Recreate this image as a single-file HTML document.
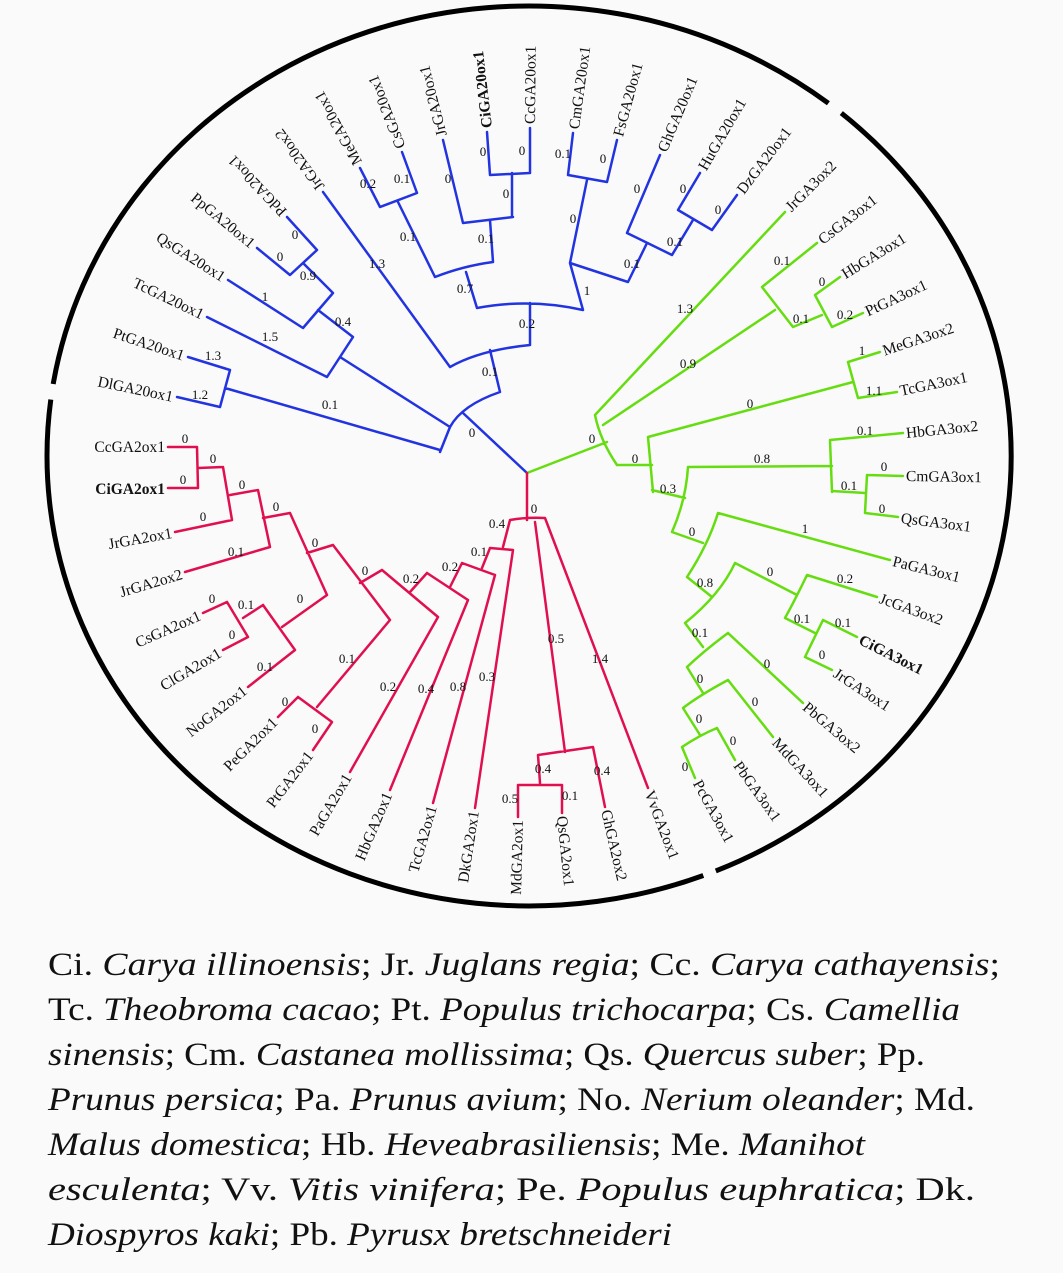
<!DOCTYPE html>
<html><head><meta charset="utf-8"><style>
html,body{margin:0;padding:0;background:#fafafa;}
svg{display:block;}
.lf{font-family:"Liberation Serif",serif;font-size:15.5px;fill:#111;}
.b{font-weight:bold;}
.n{font-family:"Liberation Serif",serif;font-size:13px;fill:#111;text-anchor:middle;dominant-baseline:middle;}
.lg{font-family:"Liberation Serif",serif;font-size:33px;fill:#111;}
.bl path{stroke:#2233e0;}
.gr path{stroke:#66dd11;}
.rd path{stroke:#e01050;}
g path{fill:none;stroke-width:2.5;stroke-linejoin:round;stroke-linecap:round;}
</style></head><body>
<svg width="1063" height="1273" viewBox="0 0 1063 1273" xmlns="http://www.w3.org/2000/svg">
<rect width="1063" height="1273" fill="#fafafa"/>
<!-- outer arcs -->
<path d="M841.3,113.1 A482 450 0 0 1 715.8,870.9" fill="none" stroke="#000" stroke-width="5"/>
<path d="M703.3,875.5 A482 450 0 0 1 50.8,399.6" fill="none" stroke="#000" stroke-width="5"/>
<path d="M53.2,384.0 A482 450 0 0 1 828.4,103.3" fill="none" stroke="#000" stroke-width="5"/>

<g class="bl"><path d="M527,473 L463,413 M440,452 L450,427 Q462,405 500,392 M177,397 L220,407 L230,370 L188,357 M225,388 L440,450
M287,217 L317,250 L290,275 L257,248 M303,263 L333,293 L303,328 L228,280 M318,310 L353,337 L327,377 L207,317 M340,357 L450,427
M500,392 L490,350 M450,367 Q480,350 530,345 M323,192 L450,367 M530,345 L530,303 M477,308 Q530,298 583,310
M477,308 L466,272 M435,277 Q463,266 493,262 M435,277 L398,202 M380,207 L417,193 M380,207 L360,168 M417,193 L402,152
M493,262 L490,220 M463,223 L513,217 M463,223 L443,140 M512,217 L512,173 M490,175 L530,173 M490,175 L487,132 M530,173 L530,128
M583,310 L570,263 M570,263 L628,282 M570,263 L587,180 M568,175 L607,182 M568,175 L573,133 M607,182 L617,140
M628,282 L647,243 M627,233 L672,255 M627,233 L660,155 M672,255 L693,220 M678,210 L712,230 M678,210 L700,173 M712,230 L737,195"/></g>

<g class="gr"><path d="M527,473 L607,442 M595,415 Q600,440 617,465 M595,415 L785,212 M603,425 L775,310
M762,287 L793,327 M762,287 L817,243 M793,327 L822,315 M815,295 L832,327 M815,295 L840,277 M832,327 L863,313
M617,465 L652,465 M648,437 L653,492 M648,437 L853,382 M848,362 L858,398 M848,362 L880,352 M858,398 L897,392
M652,490 L685,498 M688,467 Q686,500 672,532 M688,467 L832,466 M830,440 L832,492 M830,440 L903,433 M832,491 L865,493 M867,475 L865,513 M867,475 L903,476 M865,513 L898,517
M672,532 L703,543 M718,513 Q708,545 687,577 M718,513 L890,560
M687,577 L712,597 M735,563 Q720,595 685,623 M735,563 L797,595 M807,575 Q795,600 785,618 M807,575 L877,597 M785,618 L815,633 M823,620 L805,657 M823,620 L857,637 M805,657 L832,670
M685,623 L703,647 M728,633 Q705,650 687,667 M728,633 L803,703 M687,667 L703,693 M728,680 Q700,695 683,708 M728,680 L773,737 M683,708 L700,735 M717,728 Q700,735 682,747 M717,728 L735,760 M682,747 L695,778"/></g>

<g class="rd"><path d="M527,473 L527,520 M510,520 Q527,517 545,518 M545,518 L648,788 M535,522 L565,752
M538,755 L593,747 M593,747 L605,807 M538,755 L540,783 M518,785 L562,785 M518,785 L518,817 M562,785 L562,813
M510,520 L503,547 M490,548 L513,550 M513,550 L475,808 M490,548 L482,568 M462,563 L495,575 M495,575 L433,803 M462,563 L450,587
M427,573 L468,600 M468,600 L390,790 M427,573 L410,592 M382,570 L438,617 M438,617 L350,772 M382,570 L360,583
M333,545 L390,620 M390,620 L317,707 M298,697 L332,722 M298,697 L278,717 M332,722 L313,750 M333,545 L307,553
M290,513 L327,595 M327,595 L282,627 M263,605 L295,650 M295,650 L248,687 M263,605 L243,618 M227,602 L248,637 M227,602 L203,613 M248,637 L223,650
M290,513 L263,518 M258,490 L270,547 M270,547 L185,572 M258,490 L230,495 M223,467 L232,520 M232,520 L175,532 M223,467 L198,468 M197,447 L198,488 M197,447 L168,447 M198,488 L168,488"/></g>

<!-- leaf labels -->
<g class="lf">
<text transform="translate(173,397) rotate(11.8)" text-anchor="end" dy="5">DlGA20ox1</text>
<text transform="translate(184,356) rotate(18.4)" text-anchor="end" dy="5">PtGA20ox1</text>
<text transform="translate(203,315) rotate(25.6)" text-anchor="end" dy="5">TcGA20ox1</text>
<text transform="translate(224,278) rotate(32.4)" text-anchor="end" dy="5">QsGA20ox1</text>
<text transform="translate(253,245) rotate(39.4)" text-anchor="end" dy="5">PpGA20ox1</text>
<text transform="translate(284,214) rotate(-133.5)" dy="5">PdGA20ox1</text>
<text transform="translate(321,189) rotate(-126.3)" dy="5">JrGA20ox2</text>
<text transform="translate(358,164) rotate(-118.9)" dy="5">MeGA20ox1</text>
<text transform="translate(401,148) rotate(-111.5)" dy="5">CsGA20ox1</text>
<text transform="translate(442,136) rotate(-104.3)" dy="5">JrGA20ox1</text>
<text class="b" transform="translate(487,128) rotate(-96.7)" dy="5">CiGA20ox1</text>
<text transform="translate(530,124) rotate(-89.5)" dy="5">CcGA20ox1</text>
<text transform="translate(574,129) rotate(-82.2)" dy="5">CmGA20ox1</text>
<text transform="translate(618,136) rotate(-74.7)" dy="5">FsGA20ox1</text>
<text transform="translate(662,151) rotate(-67.1)" dy="5">GhGA20ox1</text>
<text transform="translate(702,169) rotate(-59.8)" dy="5">HuGA20ox1</text>
<text transform="translate(740,192) rotate(-52.6)" dy="5">DzGA20ox1</text>
<text transform="translate(788,209) rotate(-45)" dy="5">JrGA3ox2</text>
<text transform="translate(820,241) rotate(-38)" dy="5">CsGA3ox1</text>
<text transform="translate(843,275) rotate(-31.7)" dy="5">HbGA3ox1</text>
<text transform="translate(866,312) rotate(-25)" dy="5">PtGA3ox1</text>
<text transform="translate(883,351) rotate(-18.5)" dy="5">MeGA3ox2</text>
<text transform="translate(900,391) rotate(-11.9)" dy="5">TcGA3ox1</text>
<text transform="translate(906,433) rotate(-5.6)" dy="5">HbGA3ox2</text>
<text transform="translate(906,476) rotate(0.9)" dy="5">CmGA3ox1</text>
<text transform="translate(901,518) rotate(7.2)" dy="5">QsGA3ox1</text>
<text transform="translate(893,561) rotate(13.9)" dy="5">PaGA3ox1</text>
<text transform="translate(880,598) rotate(19.9)" dy="5">JcGA3ox2</text>
<text class="b" transform="translate(860,639) rotate(26.8)" dy="5">CiGA3ox1</text>
<text transform="translate(835,672) rotate(33.3)" dy="5">JrGA3ox1</text>
<text transform="translate(805,705) rotate(40.2)" dy="5">PbGA3ox2</text>
<text transform="translate(775,740) rotate(47.3)" dy="5">MdGA3ox1</text>
<text transform="translate(737,763) rotate(54.4)" dy="5">PbGA3ox1</text>
<text transform="translate(697,781) rotate(61.4)" dy="5">PcGA3ox1</text>
<text transform="translate(649,791) rotate(69.2)" dy="5">VvGA2ox1</text>
<text transform="translate(606,810) rotate(77)" dy="5">GhGA2ox2</text>
<text transform="translate(562,816) rotate(84.2)" dy="5">QsGA2ox1</text>
<text transform="translate(518,820) rotate(-88.5)" text-anchor="end" dy="5">MdGA2ox1</text>
<text transform="translate(474,811) rotate(-81.3)" text-anchor="end" dy="5">DkGA2ox1</text>
<text transform="translate(432,806) rotate(-74.2)" text-anchor="end" dy="5">TcGA2ox1</text>
<text transform="translate(388,793) rotate(-66.8)" text-anchor="end" dy="5">HbGA2ox1</text>
<text transform="translate(348,775) rotate(-59.6)" text-anchor="end" dy="5">PaGA2ox1</text>
<text transform="translate(310,753) rotate(-52.6)" text-anchor="end" dy="5">PtGA2ox1</text>
<text transform="translate(275,720) rotate(-44.8)" text-anchor="end" dy="5">PeGA2ox1</text>
<text transform="translate(245,689) rotate(-38)" text-anchor="end" dy="5">NoGA2ox1</text>
<text transform="translate(220,652) rotate(-30.6)" text-anchor="end" dy="5">ClGA2ox1</text>
<text transform="translate(200,615) rotate(-23.8)" text-anchor="end" dy="5">CsGA2ox1</text>
<text transform="translate(182,574) rotate(-16.6)" text-anchor="end" dy="5">JrGA2ox2</text>
<text transform="translate(172,533) rotate(-10)" text-anchor="end" dy="5">JrGA2ox1</text>
<text class="b" transform="translate(165,489)" text-anchor="end" dy="5">CiGA2ox1</text>
<text transform="translate(165,447)" text-anchor="end" dy="5">CcGA2ox1</text>
</g>

<!-- branch values -->
<g class="n">
<text x="213" y="357">1.3</text><text x="200" y="396">1.2</text><text x="330" y="406">0.1</text><text x="270" y="338">1.5</text>
<text x="265" y="298">1</text><text x="343" y="323">0.4</text><text x="308" y="277">0.9</text><text x="280" y="258">0</text><text x="295" y="236">0</text>
<text x="377" y="265">1.3</text><text x="408" y="238">0.1</text><text x="368" y="185">0.2</text><text x="402" y="180">0.1</text>
<text x="448" y="180">0</text><text x="483" y="153">0</text><text x="522" y="152">0</text><text x="506" y="195">0</text><text x="486" y="240">0.1</text>
<text x="465" y="290">0.7</text><text x="527" y="325">0.2</text><text x="490" y="373">0.1</text><text x="472" y="434">0</text>
<text x="563" y="155">0.1</text><text x="603" y="160">0</text><text x="573" y="220">0</text><text x="587" y="292">1</text><text x="632" y="265">0.1</text>
<text x="637" y="190">0</text><text x="675" y="243">0.1</text><text x="683" y="190">0</text><text x="718" y="211">0</text>
<text x="592" y="440">0</text><text x="685" y="310">1.3</text><text x="688" y="365">0.9</text><text x="782" y="262">0.1</text><text x="801" y="320">0.1</text>
<text x="822" y="283">0</text><text x="845" y="316">0.2</text><text x="862" y="352">1</text><text x="874" y="392">1.1</text><text x="750" y="405">0</text>
<text x="865" y="432">0.1</text><text x="762" y="460">0.8</text><text x="635" y="460">0</text><text x="668" y="490">0.3</text><text x="884" y="468">0</text>
<text x="849" y="487">0.1</text><text x="882" y="510">0</text><text x="692" y="533">0</text><text x="805" y="530">1</text><text x="705" y="584">0.8</text>
<text x="770" y="573">0</text><text x="845" y="580">0.2</text><text x="802" y="620">0.1</text><text x="843" y="624">0.1</text><text x="822" y="656">0</text>
<text x="700" y="634">0.1</text><text x="767" y="665">0</text><text x="700" y="680">0</text><text x="755" y="703">0</text><text x="699" y="720">0</text>
<text x="733" y="742">0</text><text x="685" y="768">0</text>
<text x="534" y="510">0</text><text x="600" y="660">1.4</text><text x="556" y="640">0.5</text><text x="602" y="772">0.4</text><text x="543" y="770">0.4</text>
<text x="510" y="800">0.5</text><text x="570" y="797">0.1</text><text x="487" y="678">0.3</text><text x="458" y="688">0.8</text><text x="426" y="690">0.4</text>
<text x="388" y="688">0.2</text><text x="347" y="660">0.1</text><text x="497" y="525">0.4</text><text x="479" y="553">0.1</text><text x="450" y="568">0.2</text>
<text x="411" y="580">0.2</text><text x="365" y="572">0</text><text x="315" y="544">0</text><text x="276" y="508">0</text><text x="242" y="486">0</text>
<text x="213" y="460">0</text><text x="185" y="440">0</text><text x="183" y="481">0</text><text x="203" y="518">0</text><text x="236" y="553">0.1</text>
<text x="212" y="600">0</text><text x="246" y="606">0.1</text><text x="232" y="636">0</text><text x="265" y="668">0.1</text><text x="300" y="600">0</text>
<text x="285" y="703">0</text><text x="315" y="730">0</text>
</g>

<!-- legend -->
<g class="lg">
<text x="48" y="975" textLength="952" lengthAdjust="spacingAndGlyphs">Ci. <tspan font-style="italic">Carya illinoensis</tspan>; Jr. <tspan font-style="italic">Juglans regia</tspan>; Cc. <tspan font-style="italic">Carya cathayensis</tspan>;</text>
<text x="48" y="1020" textLength="912" lengthAdjust="spacingAndGlyphs">Tc. <tspan font-style="italic">Theobroma cacao</tspan>; Pt. <tspan font-style="italic">Populus trichocarpa</tspan>; Cs. <tspan font-style="italic">Camellia</tspan></text>
<text x="48" y="1065" textLength="877" lengthAdjust="spacingAndGlyphs"><tspan font-style="italic">sinensis</tspan>; Cm. <tspan font-style="italic">Castanea mollissima</tspan>; Qs. <tspan font-style="italic">Quercus suber</tspan>; Pp.</text>
<text x="48" y="1110" textLength="927" lengthAdjust="spacingAndGlyphs"><tspan font-style="italic">Prunus persica</tspan>; Pa. <tspan font-style="italic">Prunus avium</tspan>; No. <tspan font-style="italic">Nerium oleander</tspan>; Md.</text>
<text x="48" y="1155" textLength="817" lengthAdjust="spacingAndGlyphs"><tspan font-style="italic">Malus domestica</tspan>; Hb. <tspan font-style="italic">Heveabrasiliensis</tspan>; Me. <tspan font-style="italic">Manihot</tspan></text>
<text x="48" y="1200" textLength="927" lengthAdjust="spacingAndGlyphs"><tspan font-style="italic">esculenta</tspan>; Vv. <tspan font-style="italic">Vitis vinifera</tspan>; Pe. <tspan font-style="italic">Populus euphratica</tspan>; Dk.</text>
<text x="48" y="1245" textLength="624" lengthAdjust="spacingAndGlyphs"><tspan font-style="italic">Diospyros kaki</tspan>; Pb. <tspan font-style="italic">Pyrusx bretschneideri</tspan></text>
</g>
</svg>
</body></html>
